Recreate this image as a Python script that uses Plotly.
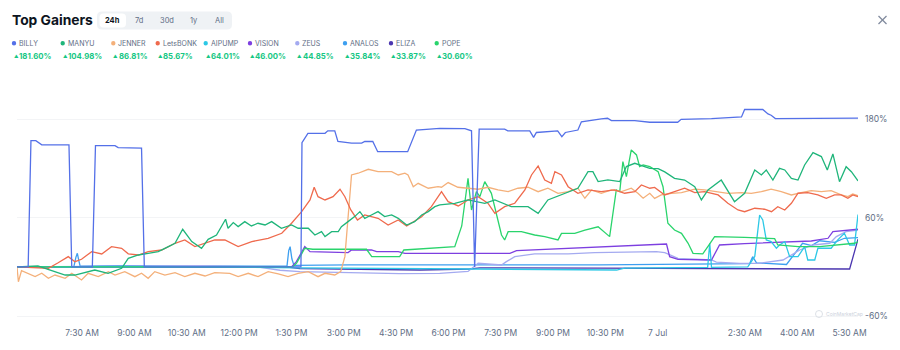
import plotly.graph_objects as go
import pandas as pd

# ---------------- data (hours after window start, % change) ----------------
START = pd.Timestamp("2025-07-06 05:38")
END_H = 24.11

names = ["BILLY", "MANYU", "JENNER", "LetsBONK", "AIPUMP", "VISION", "ZEUS", "ANALOS", "ELIZA", "POPE"]
changes = ["181.60%", "104.98%", "86.81%", "85.67%", "64.01%", "46.00%", "44.85%", "35.84%", "33.87%", "30.60%"]
colors = ["#5470e8", "#1fb57a", "#f4b07a", "#ef6a4d", "#2cc8e6", "#7d3fe0", "#a4aaf0", "#3d9ff0", "#4b36b0", "#2ad46c"]

billy_h = [0, 0.32, 0.40, 0.54, 0.71, 1.49, 1.57, 2.16, 2.25, 2.81, 2.90, 3.57, 3.65, 8.14, 8.17, 8.34, 8.83, 8.91, 9.11, 9.20,
           9.59, 9.88, 9.97, 10.20, 10.34, 11.20, 11.45, 12.12, 12.84, 13.03, 13.12, 13.25, 13.98, 14.07, 14.70, 14.81, 14.89,
           15.50, 15.62, 15.72, 16.08, 16.18, 16.75, 16.93, 17.04, 17.71, 18.14, 18.94, 19.04, 19.91, 20.77, 20.86, 21.38,
           21.53, 21.62, 21.74, 24.11]
billy_v = [0, 0, 154, 154, 149, 149, 0, 0, 148, 148, 145.5, 145, 0, 0, 151.6, 163, 163, 166, 166, 153,
           151, 151, 153, 153, 140.6, 140.6, 167, 169, 168.7, 166, 0, 168, 168, 166, 166, 158, 164,
           166, 159, 164, 167, 177, 180.5, 181.3, 178.4, 178.4, 176.5, 176.5, 180, 181, 183, 192, 192,
           186.6, 185, 181, 181.6]

manyu_h = [0, 0.52, 0.60, 0.89, 1.38, 1.66, 2.23, 2.61, 3.00, 3.19, 3.48, 3.76, 4.05, 4.34, 4.53, 4.75, 5.01, 5.29, 5.48, 5.72,
           5.98, 6.05, 6.20, 6.34, 6.53, 6.72, 6.91, 7.11, 7.30, 7.58, 7.87, 8.06, 8.35, 8.54, 8.73, 8.83, 9.02, 9.21, 9.30, 9.49,
           9.68, 9.83, 9.97, 10.16, 10.35, 10.54, 10.74, 10.93, 11.17, 11.40, 11.60, 11.79, 11.98, 12.12, 12.55, 12.93, 13.41,
           13.70, 14.17, 14.65, 14.94, 15.22, 15.61, 16.08, 16.37, 16.51, 16.66, 16.94, 17.28, 17.47, 17.71, 18.14, 18.38,
           18.57, 18.85, 19.14, 19.43, 19.62, 19.81, 20.19, 20.48, 20.57, 20.86, 21.15, 21.34, 21.48, 21.67, 21.86, 22.01,
           22.20, 22.39, 22.58, 22.82, 23.06, 23.23, 23.39, 23.58, 23.77, 23.92, 24.11]
manyu_v = [0, 1.2, 1.2, -3, -9.8, -9.8, -3.7, -7.7, -1.6, 10.6, 14.6, 16.7, 18.7, 24.8, 28.9, 46, 30.9, 22.8, 33.7, 39,
           58.2, 47.2, 54.1, 49.2, 55.3, 50, 53.3, 51.2, 55.3, 47.2, 51.2, 47.2, 47.2, 39, 43.1, 37, 43.1, 43.1, 49.2, 55.3,
           61.4, 67.5, 59.3, 63.4, 67.5, 61.4, 63.4, 59.3, 51.2, 55.3, 63.4, 67.5, 73.6, 75.6, 77.6, 81.7, 77.6,
           81.7, 73.6, 73.6, 65.4, 81.7, 87.8, 95.9, 116.3, 116.3, 104.1, 106.1, 104.1, 122.4, 126.4, 120.3, 120,
           116, 108.1, 106, 97.9, 81.7, 93.9, 106, 85.8, 79.6, 89.8, 118.3, 112.2, 118.3, 106, 120.3, 118.3,
           108.1, 106, 124.4, 139.4, 134.6, 118.3, 137.8, 104, 122.3, 116.2, 104.98]

jenner_h = [0, 0.04, 0.13, 0.32, 0.52, 0.71, 0.90, 1.09, 1.38, 1.57, 1.85, 2.04, 2.33, 2.62, 2.81, 3.09, 3.38, 3.57, 3.76, 3.95,
            4.24, 4.53, 4.81, 5.10, 5.39, 5.67, 6.10, 6.34, 6.63, 6.91, 7.20, 7.49, 7.77, 8.06, 8.35, 8.63, 8.83, 9.11, 9.28, 9.40,
            9.49, 9.59, 9.78, 10.07, 10.35, 10.74, 10.93, 11.12, 11.21, 11.36, 11.50, 11.79, 12.07, 12.17, 12.36, 12.64, 12.93,
            13.22, 13.50, 13.79, 14.08, 14.36, 14.65, 14.94, 15.22, 15.51, 15.80, 16.08, 16.28, 16.47, 16.75, 17.04, 17.33,
            17.61, 17.80, 17.95, 18.14, 18.28, 18.47, 18.76, 19.05, 19.43, 19.71, 20.00, 20.38, 20.77, 21.05, 21.34, 21.62,
            21.91, 22.20, 22.48, 22.77, 23.06, 23.34, 23.63, 23.82, 23.96, 24.11]
jenner_v = [0, -18, -4.5, -7.7, -11.8, -7.7, -13.8, -9.8, -13.8, -7.7, -15.9, -7.7, -11.8, -5.7, -9.8, -5.7, -11.8, -7.7, -13.8, -5.7,
            -9.8, -6.9, -11.8, -7.7, -11, -6.9, -7.7, -11.8, -7.7, -11.8, -5.7, -8.5, -11.8, -7.7, -5.7, -11.8, -7.7, -9.8, -5.7, 12.6,
            65.5, 112.2, 114.3, 119.1, 116.2, 116.2, 112.2, 114.3, 112.2, 97.9, 102, 96, 97.9, 97.2, 102.9, 97.2, 96,
            94.8, 97.2, 93.9, 91.8, 96, 97.2, 91.8, 96, 89.8, 91.8, 96, 83.8, 93.9, 89.8, 93.9, 91.8,
            96, 89.8, 83.8, 89.8, 83.7, 87.8, 89.8, 90.7, 94.8, 93.9, 91.9, 89.8, 90.7, 89.8, 91.9, 94.8,
            91.9, 87.8, 90.7, 93.1, 91.9, 93.1, 87.8, 85.8, 89, 86.81]

letsbonk_h = [0, 0.90, 1.18, 1.47, 1.66, 1.85, 2.14, 2.43, 2.71, 3.00, 3.19, 3.48, 3.76, 4.15, 4.53, 4.81, 5.10, 5.39, 5.67, 5.96,
              6.34, 6.73, 7.20, 7.59, 7.87, 8.16, 8.40, 8.52, 8.63, 8.83, 9.06, 9.26, 9.40, 9.57, 9.76, 9.97, 10.35, 10.64, 10.93,
              11.17, 11.60, 11.88, 12.17, 12.36, 12.65, 12.93, 13.22, 13.50, 13.70, 13.98, 14.27, 14.56, 14.75, 14.94, 15.13,
              15.32, 15.42, 15.61, 15.80, 16.08, 16.37, 16.75, 17.13, 17.42, 17.71, 17.90, 18.14, 18.28, 18.57, 18.85, 19.14,
              19.43, 19.71, 20.10, 20.38, 20.67, 20.86, 21.15, 21.43, 21.63, 21.81, 22.01, 22.20, 22.39, 22.67, 22.96, 23.20,
              23.44, 23.63, 23.82, 23.96, 24.11]
letsbonk_v = [0, -1.6, 5.2, 12.6, 6.4, 9.4, 18.7, 15.9, 24.8, 22.8, 16, 14.6, 18.7, 20.7, 28.9, 32.9, 24.8, 28.9, 32.9, 33,
              24.8, 30.9, 35, 41.1, 53.3, 67.4, 81.7, 97.2, 85.7, 81.7, 85.7, 94.8, 85.7, 69.5, 57.3, 63.4, 59.4, 51.2, 57.3,
              50, 61.3, 73.5, 91.8, 79.6, 74.4, 81.7, 85.7, 77.7, 65.5, 73.5, 77.7, 93.9, 112.2, 123.2, 106.1,
              102.1, 116.2, 112.2, 97.9, 89.9, 93.9, 91.8, 93.9, 89.9, 91.8, 100, 96, 97, 87.8, 91.8, 96,
              90.6, 91.8, 87.8, 77.7, 69.5, 67.4, 71.6, 70.4, 67.4, 73.5, 69.5, 77.7, 89.9, 90.6, 87.8, 83.8,
              87.8, 87.8, 83.8, 87.8, 85.67]

aipump_h = [0, 5.24, 8.11, 12.41, 17.19, 17.42, 19.57, 19.80, 19.86, 19.91, 20.95, 21.15, 21.29, 21.38, 21.48, 21.62, 21.77,
            21.86, 22.01, 22.15, 22.39, 22.58, 22.67, 22.87, 22.96, 23.34, 23.53, 23.72, 23.87, 24.01, 24.11]
aipump_v = [0, 0, -1, -2.5, -3.7, -1.5, -1, -0.5, 29, -0.5, 0, 12.6, 63.4, 57.3, 33, 31, 22.8,
            26.8, 30.9, 12.6, 12.6, 24.8, 8.5, 8.5, 22.8, 22.8, 33, 41, 26.8, 26.8, 64.01]

vision_h = [0, 7.87, 8.01, 8.25, 8.40, 9.49, 9.59, 10.16, 10.31, 10.93, 11.12, 12.41, 14.13, 14.32, 16.70, 17.99, 18.62,
            18.71, 18.95, 19.91, 20.14, 20.86, 21.72, 22.20, 22.77, 23.25, 23.39, 24.11]
vision_v = [0, 0, 6.5, 24.8, 18.7, 17.5, 20.7, 20.7, 18.7, 18.7, 16.7, 16.7, 16.7, 19.9, 24, 26.8, 28,
            12.6, 9.3, 8.5, 26.8, 28.5, 29.7, 30.9, 31.7, 35, 43, 46.0]

zeus_h = [0, 2.38, 5.24, 6.88, 7.54, 8.11, 9.54, 10.97, 12.12, 12.93, 13.22, 13.89, 14.03, 14.27, 14.84, 15.80, 16.56, 17.71,
          18.33, 18.57, 18.95, 19.91, 20.05, 20.72, 21.29, 21.96, 22.44, 22.82, 23.30, 23.49, 23.77, 24.11]
zeus_v = [0, 1, 1.5, 0, -4, -5.7, -6.5, -8, -7.7, -5.5, 4.5, 2.4, 6.5, 12.6, 15.9, 15.9, 17.5, 18.3,
          18.7, 17.5, 10.6, 8.5, 6, 4.5, 4.5, 8.5, 20.7, 26.8, 28.9, 37, 43, 44.85]

analos_h = [0, 1.63, 1.69, 1.73, 1.77, 1.81, 2.95, 5.24, 7.74, 7.79, 7.83, 7.88, 7.94, 9.54, 11.83, 13.84, 16.70, 21.00,
            21.09, 21.20, 22.06, 22.52, 22.78, 23.01, 23.44, 23.72, 24.11]
analos_v = [0, 0.5, 12, 16.7, 8, 1, 1.5, 1.2, 1, 20, 24.8, 10, 2, 2.5, 2.5, 2, 2.5, 4,
            12.6, 5, 3, 28.9, 26, 32, 30, 35, 35.84]

eliza_h = [0, 5.24, 7.82, 8.11, 9.54, 11.55, 12.98, 13.27, 16.70, 19.57, 23.87, 24.11]
eliza_v = [0, 0, -0.5, -2, -3, -3.7, -2.5, -1, -1.5, -2, -2.5, 33.87]

pope_h = [0, 7.91, 8.02, 8.25, 8.48, 10.02, 10.17, 10.97, 11.09, 11.98, 12.41, 12.55, 12.75, 12.87, 12.93, 13.03, 13.17,
          13.27, 13.41, 13.60, 13.79, 13.89, 13.98, 14.08, 14.46, 14.84, 15.13, 15.51, 15.61, 15.99, 16.28, 16.66, 16.99,
          17.18, 17.28, 17.37, 17.47, 17.61, 17.76, 17.85, 17.95, 18.14, 18.38, 18.52, 18.66, 18.85, 19.05, 19.24, 19.38,
          19.66, 19.81, 20.00, 20.86, 21.72, 21.81, 22.39, 23.01, 23.58, 24.01, 24.11]
pope_v = [0, 0, 5, 22.8, 21.6, 21.6, 12.6, 12.6, 20.7, 23, 24.8, 24.8, 50, 90, 108.1, 69.5, 91.9,
          85.8, 104.1, 89.8, 57.3, 39, 32.9, 43, 43, 39, 37, 33, 41, 41, 45, 49, 37,
          93.9, 91.9, 128.4, 110.1, 142.7, 136.6, 122.4, 124.4, 122.3, 116.3, 97.9, 53.3, 45.1, 41, 28.9, 16.7,
          15.9, 25, 37, 36.2, 34.5, 26.8, 24.8, 24.8, 26.8, 28.9, 30.6]

series = {
    "BILLY": (billy_h, billy_v), "MANYU": (manyu_h, manyu_v), "JENNER": (jenner_h, jenner_v),
    "LetsBONK": (letsbonk_h, letsbonk_v), "AIPUMP": (aipump_h, aipump_v), "VISION": (vision_h, vision_v),
    "ZEUS": (zeus_h, zeus_v), "ANALOS": (analos_h, analos_v), "ELIZA": (eliza_h, eliza_v), "POPE": (pope_h, pope_v),
}

tick_times = ["2025-07-06 07:30", "2025-07-06 09:00", "2025-07-06 10:30", "2025-07-06 12:00", "2025-07-06 13:30",
              "2025-07-06 15:00", "2025-07-06 16:30", "2025-07-06 18:00", "2025-07-06 19:30", "2025-07-06 21:00",
              "2025-07-06 22:30", "2025-07-07 00:00", "2025-07-07 02:30", "2025-07-07 04:00", "2025-07-07 05:30"]
tick_labels = ["7:30 AM", "9:00 AM", "10:30 AM", "12:00 PM", "1:30 PM", "3:00 PM", "4:30 PM", "6:00 PM", "7:30 PM",
               "9:00 PM", "10:30 PM", "7 Jul", "2:30 AM", "4:00 AM", "5:30 AM"]
y_ticks = [-60, 60, 180]
y_labels = ["-60%", "60%", "180%"]
tabs = ["24h", "7d", "30d", "1y", "All"]

# ---------------- layout geometry ----------------
W, H = 900, 350
ML, MR, MT, MB = 17, 42, 95, 28
PW, PH = W - ML - MR, H - MT - MB


def px(x):
    return (x - ML) / PW


def py(y):
    return (H - MB - y) / PH


fig = go.Figure()
order = ["ELIZA", "ANALOS", "ZEUS", "VISION", "AIPUMP", "POPE", "JENNER", "LetsBONK", "MANYU", "BILLY"]
for nm in order:
    hh, vv = series[nm]
    t = START + pd.to_timedelta(hh, unit="h")
    fig.add_trace(go.Scatter(x=t, y=vv, mode="lines", name=nm,
                             line=dict(color=colors[names.index(nm)], width=1.3),
                             hoverinfo="skip"))

FONT = "Inter, 'Noto Sans', sans-serif"
fig.update_layout(
    width=W, height=H, margin=dict(l=ML, r=MR, t=MT, b=MB, pad=0),
    paper_bgcolor="white", plot_bgcolor="white", showlegend=False,
    font=dict(family=FONT, color="#58667e"),
)
fig.update_xaxes(range=[START, START + pd.Timedelta(hours=END_H)], tickvals=tick_times, ticktext=tick_labels,
                 showgrid=False, zeroline=False, showline=False, ticks="",
                 tickfont=dict(size=8.5, color="#616e85"), ticklabelstandoff=4)
fig.update_yaxes(side="right", range=[-67.1, 209.7], tickvals=y_ticks, ticktext=y_labels,
                 showgrid=True, gridcolor="#f3f4f6", gridwidth=1, zeroline=False, showline=False, ticks="",
                 tickfont=dict(size=8.5, color="#616e85"), ticklabelstandoff=6)

annotations = []
shapes = []


def ann(x, y, text, size, color, anchor="left", weight="normal"):
    annotations.append(dict(x=px(x), y=py(y), xref="paper", yref="paper", text=text, showarrow=False,
                            xanchor=anchor, yanchor="middle", borderpad=0,
                            font=dict(size=size, color=color, family=FONT, weight=weight)))


def rrect(x0, y0, x1, y1, r, fill):
    pts = [("M", [(x0 + r, y0)]), ("L", [(x1 - r, y0)]), ("Q", [(x1, y0), (x1, y0 + r)]),
           ("L", [(x1, y1 - r)]), ("Q", [(x1, y1), (x1 - r, y1)]), ("L", [(x0 + r, y1)]),
           ("Q", [(x0, y1), (x0, y1 - r)]), ("L", [(x0, y0 + r)]), ("Q", [(x0, y0), (x0 + r, y0)])]
    path = " ".join(c + " " + " ".join(f"{px(a):.5f},{py(b):.5f}" for a, b in p) for c, p in pts) + " Z"
    shapes.append(dict(type="path", path=path, xref="paper", yref="paper", fillcolor=fill, line=dict(width=0)))


# title
ann(11, 19.5, "Top Gainers", 13.8, "#0d1421", weight="bold")
# tab group
rrect(97, 11.5, 232, 29.5, 5, "#eff2f5")
rrect(99.5, 13.5, 126, 27.5, 4, "#ffffff")
tab_x = [112.7, 139.3, 166.7, 194.3, 219]
for i, tb in enumerate(tabs):
    ann(tab_x[i], 20.5, tb, 7.5, "#0d1421" if i == 0 else "#616e85", anchor="center",
        weight="bold" if i == 0 else "normal")
# close icon
for (a, b, c, d) in [(878.5, 16, 886.5, 24), (878.5, 24, 886.5, 16)]:
    shapes.append(dict(type="line", xref="paper", yref="paper", x0=px(a), y0=py(b), x1=px(c), y1=py(d),
                       line=dict(color="#808a9d", width=1.3)))

# custom legend
dot_x = [14, 62.7, 113.3, 157.7, 205.7, 250, 297.3, 345, 391, 436.7]
for i, nm in enumerate(names):
    dx = dot_x[i]
    r = 2.2
    shapes.append(dict(type="circle", xref="paper", yref="paper", x0=px(dx - r), x1=px(dx + r),
                       y0=py(43.3 + r), y1=py(43.3 - r), fillcolor=colors[i], line=dict(width=0)))
    ann(dx + 3.8, 43.5, nm, 7, "#616e85")
    ann(dx - 1.2, 56, "▲", 4.5, "#16c784")
    ann(dx + 4.2, 56, changes[i], 7.8, "#16c784", weight="bold")

# watermark
shapes.append(dict(type="circle", xref="paper", yref="paper", x0=px(815.5), x1=px(822.5), y0=py(317.5), y1=py(310.5),
                   line=dict(color="#d3d8e0", width=0.8)))
ann(825, 314, "CoinMarketCap", 5, "#ccd2dc")

fig.update_layout(annotations=annotations, shapes=shapes)
fig.write_html("out.html")
